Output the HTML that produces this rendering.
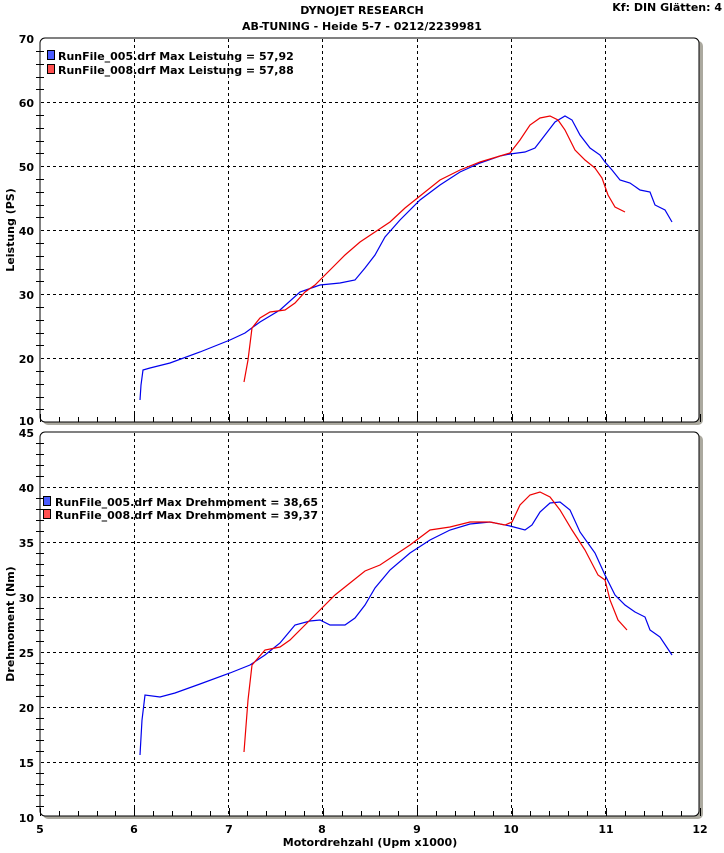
<!DOCTYPE html><html><head><style>body{margin:0;background:#fff}svg text{font-family:"DejaVu Sans",Verdana,sans-serif;font-weight:bold;font-size:11px}</style></head><body>
<svg width="724" height="848" xmlns="http://www.w3.org/2000/svg">
<text x="362" y="14" text-anchor="middle">DYNOJET RESEARCH</text>
<text x="362" y="30" text-anchor="middle">AB-TUNING - Heide 5-7 - 0212/2239981</text>
<text x="722" y="11" text-anchor="end">Kf: DIN  Glätten: 4</text>
<!-- panels shadows -->
<rect x="43" y="41" width="660" height="384" rx="5" fill="#aba99f"/>
<rect x="40" y="38" width="659" height="384" rx="5" fill="#fff" stroke="#000"/>
<rect x="43" y="435" width="660" height="384" rx="5" fill="#aba99f"/>
<rect x="40" y="432" width="659" height="384" rx="5" fill="#fff" stroke="#000"/>
<g stroke="#000" stroke-dasharray="3,3" stroke-width="1">
<path d="M134.5 39V421M228.5 39V421M322.5 39V421M417.5 39V421M511.5 39V421M605.5 39V421"/>
<path d="M41 102.5H698M41 166.5H698M41 230.5H698M41 294.5H698M41 358.5H698"/>
<path d="M134.5 433V815M228.5 433V815M322.5 433V815M417.5 433V815M511.5 433V815M605.5 433V815"/>
<path d="M41 487.5H698M41 542.5H698M41 597.5H698M41 652.5H698M41 707.5H698M41 762.5H698"/>
</g>
<g stroke="#000">
<path d="M36 51.5h8M36 64.5h8M36 77.5h8M36 89.5h8M36 115.5h8M36 128.5h8M36 141.5h8M36 153.5h8M36 179.5h8M36 192.5h8M36 205.5h8M36 217.5h8M36 243.5h8M36 256.5h8M36 269.5h8M36 281.5h8M36 307.5h8M36 320.5h8M36 333.5h8M36 345.5h8M36 371.5h8M36 384.5h8M36 397.5h8M36 409.5h8"/>
<path d="M36 443.5h8M36 454.5h8M36 465.5h8M36 476.5h8M36 498.5h8M36 509.5h8M36 520.5h8M36 531.5h8M36 553.5h8M36 564.5h8M36 575.5h8M36 586.5h8M36 608.5h8M36 619.5h8M36 630.5h8M36 641.5h8M36 663.5h8M36 674.5h8M36 685.5h8M36 696.5h8M36 718.5h8M36 729.5h8M36 740.5h8M36 751.5h8M36 773.5h8M36 784.5h8M36 795.5h8M36 806.5h8"/>
</g>
<g id="xt" stroke="#000"></g>
<g text-anchor="end">
<text x="34" y="43">70</text><text x="34" y="107">60</text><text x="34" y="171">50</text><text x="34" y="235">40</text><text x="34" y="299">30</text><text x="34" y="363">20</text><text x="34" y="425">10</text>
<text x="34" y="437">45</text><text x="34" y="492">40</text><text x="34" y="547">35</text><text x="34" y="602">30</text><text x="34" y="657">25</text><text x="34" y="712">20</text><text x="34" y="767">15</text><text x="34" y="822">10</text>
</g>
<g text-anchor="middle">
<text x="40" y="833">5</text><text x="134" y="833">6</text><text x="229" y="833">7</text><text x="322" y="833">8</text><text x="417" y="833">9</text><text x="511" y="833">10</text><text x="606" y="833">11</text><text x="700" y="833">12</text>
<text x="370" y="846">Motordrehzahl (Upm x1000)</text>
<text transform="translate(14,230) rotate(-90)">Leistung (PS)</text>
<text transform="translate(14,624) rotate(-90)">Drehmoment (Nm)</text>
</g>
<rect x="47.5" y="50.5" width="7" height="9" fill="#4a5cff" stroke="#000"/><text x="58" y="60">RunFile_005.drf Max Leistung = 57,92</text>
<rect x="47.5" y="64.5" width="7" height="9" fill="#ff5050" stroke="#000"/><text x="58" y="74">RunFile_008.drf Max Leistung = 57,88</text>
<rect x="43.5" y="496.5" width="7" height="9" fill="#4a5cff" stroke="#000"/><text x="55" y="506">RunFile_005.drf Max Drehmoment = 38,65</text>
<rect x="43.5" y="509.5" width="7" height="9" fill="#ff5050" stroke="#000"/><text x="55" y="519">RunFile_008.drf Max Drehmoment = 39,37</text>
<g fill="none" stroke-width="1.2">
<polyline stroke="#0000ee" points="140,400 141,385 143,370 150,368 170,363 200,352 230,340 245,333 260,322 280,310 300,292 320,285 340,283 355,280 365,268 375,255 385,237 400,220 420,200 440,185 460,172 480,163 500,156 510,154 525,152 535,148 545,135 555,122 565,116 572,120 580,135 590,148 600,155 605,162 612,170 620,180 630,183 640,190 650,192 655,205 665,210 672,222"/>
<polyline stroke="#ee0000" points="244,382 248,360 252,328 260,318 270,312 285,310 295,303 305,292 315,285 325,275 335,265 345,255 360,242 375,232 390,222 405,208 420,196 440,180 460,170 480,162 500,156 510,153 520,140 530,125 540,118 550,116 558,120 565,130 575,150 585,160 595,168 602,178 608,195 615,207 625,212"/>
<polyline stroke="#0000ee" points="140,755 142,720 145,695 160,697 175,693 200,684 230,673 250,665 265,655 280,643 295,625 310,621 320,620 330,625 345,625 355,618 365,605 375,588 390,570 410,553 430,540 450,530 470,524 490,522 510,526 525,530 532,525 540,512 550,503 560,502 570,510 580,532 595,553 605,575 615,595 625,605 635,612 645,617 650,630 660,637 672,655"/>
<polyline stroke="#ee0000" points="244,752 248,700 252,665 265,650 280,647 290,640 305,625 320,610 335,595 350,583 365,571 380,565 395,555 410,545 430,530 450,527 470,522 490,522 505,525 512,522 520,505 530,495 540,492 550,497 560,510 572,530 585,550 598,575 605,580 610,600 618,620 627,630"/>
</g>
<script>
var g=document.getElementById('xt'),d='';
for(var i=0;i<=35;i++){var x=Math.round(40+i*94.3/5)+.5;var h=(i%5==0)?8:5;d+='M'+x+' '+(816-h)+'V816M'+x+' '+(422-h)+'V422';}
var p=document.createElementNS('http://www.w3.org/2000/svg','path');p.setAttribute('d',d);g.appendChild(p);
</script>
</svg></body></html>
